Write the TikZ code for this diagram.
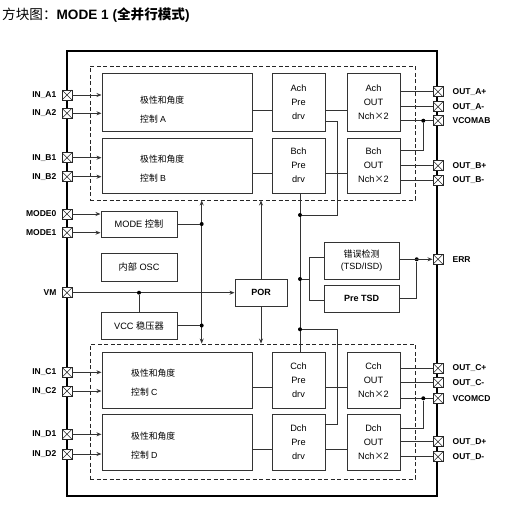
\documentclass[tikz,border=0pt]{standalone}
\usepackage{fontspec}
\setmainfont{Liberation Sans}
\newfontfamily\cjk{Noto Sans CJK SC}
\usetikzlibrary{arrows.meta}
\newcommand\mkbox[7][]{\node[blk,#1, minimum width={(#5)-(#3)}, minimum height={(#6)-(#4)}] (#2) at ({((#3)+(#5))/2},{((#4)+(#6))/2}) {#7};}
\begin{document}
\begin{tikzpicture}[x=1pt,y=-1pt,
  blk/.style={draw=black!80, line width=1pt, inner sep=0pt, font=\fontsize{9.2}{14}\selectfont, align=center},
  pin/.style={draw=black!85, line width=0.9pt, fill=white, minimum size=10pt, inner sep=0pt,
    path picture={\draw[line width=0.6pt] (path picture bounding box.south west) -- (path picture bounding box.north east) (path picture bounding box.north west) -- (path picture bounding box.south east);}},
  ln/.style={line width=1pt, draw=black!80},
  arr/.style={ln, -{Stealth[length=5pt,width=4pt]}},
  dot/.style={circle, fill=black, inner sep=0pt, minimum size=4pt},
  plab/.style={font=\fontsize{8.5}{10}\selectfont\bfseries, inner sep=0pt},
  ctltxt/.style={font=\fontsize{8.8}{19}\selectfont, align=left, inner sep=0pt, anchor=west},
  dashbox/.style={draw=black!85, line width=0.9pt, dash pattern=on 4pt off 2.5pt}
]
\useasboundingbox (0,0) rectangle (526,508);
% title
\node[anchor=west, font=\fontsize{13.6}{15}\selectfont, inner sep=0pt] (title) at (2,15.5)
  {{\cjk 方块图：}\textbf{MODE 1 ({\cjk 全并行模式})}};
% outer frame and dashed groups
\draw[line width=2.6pt] (67,51) rectangle (437,496);
\node[dashbox, minimum width=325pt, minimum height=134pt, inner sep=0pt] (dash1) at (252.5,133) {};
\node[dashbox, minimum width=325pt, minimum height=135pt, inner sep=0pt] (dash2) at (252.5,411.5) {};
% blocks top
\mkbox{ctlA}{102}{74}{252}{131}{}
\mkbox{ctlB}{102}{138}{252}{193}{}
\mkbox{preA}{272}{74}{325}{131}{Ach\\Pre\\drv}
\mkbox{preB}{272}{138}{325}{193}{Bch\\Pre\\drv}
\mkbox{outA}{347}{74}{400}{131}{Ach\\OUT\\Nch{\cjk ×}2}
\mkbox{outB}{347}{138}{400}{193}{Bch\\OUT\\Nch{\cjk ×}2}
% blocks bottom
\mkbox{ctlC}{102}{352}{252}{408}{}
\mkbox{ctlD}{102}{414}{252}{470}{}
\mkbox{preC}{272}{352}{325}{408}{Cch\\Pre\\drv}
\mkbox{preD}{272}{414}{325}{470}{Dch\\Pre\\drv}
\mkbox{outC}{347}{352}{400}{408}{Cch\\OUT\\Nch{\cjk ×}2}
\mkbox{outD}{347}{414}{400}{470}{Dch\\OUT\\Nch{\cjk ×}2}
% middle blocks
\mkbox{mode}{101}{211}{177}{237}{MODE {\cjk 控制}}
\mkbox{osc}{101}{253}{177}{281}{{\cjk 内部} OSC}
\mkbox{vcc}{101}{312}{177}{339}{VCC {\cjk 稳压器}}
\mkbox[font=\fontsize{9}{10}\selectfont\bfseries]{por}{235}{279.5}{287}{306}{POR}
\mkbox[font=\fontsize{9}{12}\selectfont]{err}{324}{242}{399}{279}{{\cjk 错误检测}\\(TSD/ISD)}
\mkbox[font=\fontsize{9}{10}\selectfont\bfseries]{pretsd}{324}{285}{399}{312}{Pre TSD}
% control texts
\node[ctltxt] (tA) at (140,109.5) {{\cjk 极性和角度}\\{\cjk 控制} A};
\node[ctltxt] (tB) at (140,168.3) {{\cjk 极性和角度}\\{\cjk 控制} B};
\node[ctltxt] (tC) at (131,382.5) {{\cjk 极性和角度}\\{\cjk 控制} C};
\node[ctltxt] (tD) at (131,445.5) {{\cjk 极性和角度}\\{\cjk 控制} D};
% left pins
\foreach \n/\y/\t in {A1/95/IN\_A1, A2/113.3/IN\_A2, B1/157.7/IN\_B1, B2/176.7/IN\_B2,
  M0/214/MODE0, M1/232.7/MODE1, VM/292.7/VM,
  C1/372.3/IN\_C1, C2/391/IN\_C2, D1/434.3/IN\_D1, D2/454/IN\_D2}
  \node[pin, label={[plab,label distance=5pt]left:\t}] (p\n) at (67,\y) {};
% right pins
\foreach \n/\y/\t in {Ap/91.7/OUT\_A+, Am/106.7/OUT\_A-, Vab/120.7/VCOMAB, Bp/165.7/OUT\_B+, Bm/180/OUT\_B-,
  ERR/259.3/ERR, Cp/368.3/OUT\_C+, Cm/382.7/OUT\_C-, Vcd/398.3/VCOMCD, Dp/441.7/OUT\_D+, Dm/456.7/OUT\_D-}
  \node[pin, label={[plab,label distance=9pt]right:\t}] (p\n) at (438,\y) {};
% input arrows
\foreach \n/\b in {A1/ctlA, A2/ctlA, B1/ctlB, B2/ctlB, M0/mode, M1/mode, C1/ctlC, C2/ctlC, D1/ctlD, D2/ctlD}
  \draw[arr] (p\n.east) -- (p\n -| \b.west);
% ctl -> pre -> out
\draw[ln] (ctlA.east |- 0,110.7) -- (preA.west |- 0,110.7);
\draw[ln] (preA.east |- 0,110.7) -- (outA.west |- 0,110.7);
\draw[ln] (ctlB.east |- 0,173) -- (preB.west |- 0,173);
\draw[ln] (preB.east |- 0,173) -- (outB.west |- 0,173);
\draw[ln] (ctlC.east |- 0,387.3) -- (preC.west |- 0,387.3);
\draw[ln] (preC.east |- 0,387.3) -- (outC.west |- 0,387.3);
\draw[ln] (ctlD.east |- 0,449.5) -- (preD.west |- 0,449.5);
\draw[ln] (preD.east |- 0,449.5) -- (outD.west |- 0,449.5);
% outputs
\foreach \n/\b in {Ap/outA, Am/outA, Vab/outA, Bp/outB, Bm/outB, Cp/outC, Cm/outC, Vcd/outC, Dp/outD, Dm/outD}
  \draw[ln] (p\n -| \b.east) -- (p\n.west);
\coordinate (jx) at (423.3,0);
\node[dot] (jab) at (jx |- pVab) {};
\draw[ln] (outB.east |- 0,150.7) -| (jab);
\node[dot] (jcd) at (jx |- pVcd) {};
\draw[ln] (outD.east |- 0,428.7) -| (jcd);
% supply bus x=201.7
\coordinate (bx) at (201.7,0);
\draw[ln, {Stealth[length=5pt,width=4pt]}-{Stealth[length=5pt,width=4pt]}] (bx |- dash1.south) -- (bx |- dash2.north);
\node[dot] (dm) at (bx |- mode.east) {};
\draw[ln] (mode.east) -- (dm);
\node[dot] (dv) at (bx |- vcc.east) {};
\draw[ln] (vcc.east) -- (dv);
% VM
\draw[arr] (pVM.east) -- (pVM -| por.west);
\node[dot] (dvm) at (vcc.north |- pVM) {};
\draw[ln] (dvm) -- (vcc.north);
% POR
\draw[arr] (por.north) -- (por.north |- dash1.south);
\draw[arr] (por.south) -- (por.south |- dash2.north);
% pre-drv bus x=300
\coordinate (px) at (300,0);
\coordinate (qx) at (337.3,0);
\draw[ln] (px |- preB.south) -- (px |- preC.north);
\node[dot] (d1) at (px |- 0,215) {};
\node[dot] (d2) at (px |- 0,279) {};
\node[dot] (d3) at (px |- 0,329.3) {};
\draw[ln] (preA.east |- 0,121) -| (qx |- d1) -- (d1);
\draw[ln] (d3) -| (qx |- 0,424.3) -- (preD.east |- 0,424.3);
% error detection
\coordinate (ex) at (309,0);
\draw[ln] (d2) -- (ex |- d2);
\draw[ln] (err.west |- 0,257.7) -| (ex |- 0,300) -- (pretsd.west |- 0,300);
\node[dot] (de) at (416.7,0 |- pERR) {};
\draw[arr] (err.east |- pERR) -- (pERR.west);
\draw[ln] (pretsd.east |- 0,298.3) -| (de);
\end{tikzpicture}
\end{document}
